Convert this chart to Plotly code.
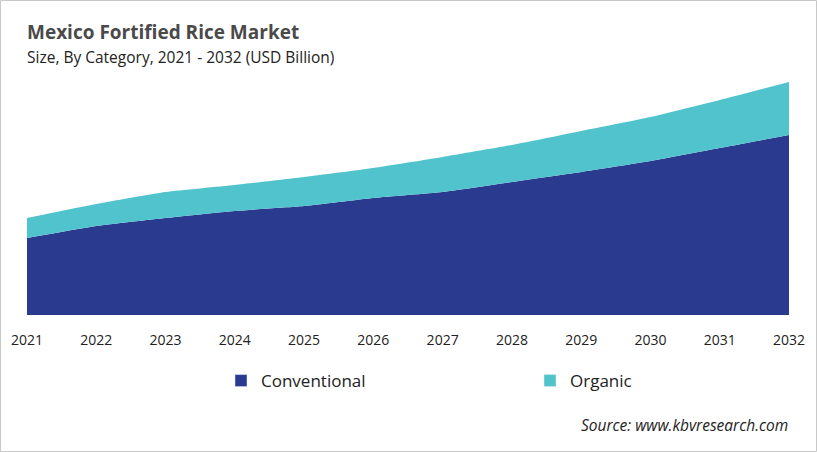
import plotly.graph_objects as go

years = [2021, 2022, 2023, 2024, 2025, 2026, 2027, 2028, 2029, 2030, 2031, 2032]
conventional = [0.77, 0.89, 0.97, 1.04, 1.09, 1.17, 1.23, 1.33, 1.43, 1.54, 1.67, 1.80]
organic = [0.20, 0.22, 0.26, 0.26, 0.29, 0.30, 0.35, 0.37, 0.41, 0.44, 0.48, 0.53]

C_CONV = "#293a8f"
C_ORG = "#50c3cd"

W, H = 817, 452
ML, MR, MT, MB = 27, 28, 70, 137
PW, PH = W - ML - MR, H - MT - MB

fig = go.Figure()
fig.add_trace(go.Scatter(x=years, y=conventional, stackgroup="one", mode="none",
                         fillcolor=C_CONV, line=dict(shape="spline", smoothing=0.5, width=0),
                         showlegend=False, hoverinfo="x+y", name="Conventional"))
fig.add_trace(go.Scatter(x=years, y=organic, stackgroup="one", mode="none",
                         fillcolor=C_ORG, line=dict(shape="spline", smoothing=0.5, width=0),
                         showlegend=False, hoverinfo="x+y", name="Organic"))
# legend entries
fig.add_trace(go.Bar(x=[None], y=[None], name="Conventional", marker_color=C_CONV, legend="legend"))
fig.add_trace(go.Bar(x=[None], y=[None], name="Organic", marker_color=C_ORG, legend="legend2"))

leg_common = dict(orientation="h", xanchor="left", yanchor="middle",
                  y=1 - (381 - MT) / PH, font=dict(size=17, color="#222222"),
                  bgcolor="rgba(0,0,0,0)", borderwidth=0)

fig.update_layout(
    width=W, height=H,
    margin=dict(l=ML, r=MR, t=MT, b=MB),
    paper_bgcolor="white", plot_bgcolor="white",
    font=dict(family="Open Sans, Noto Sans, sans-serif", color="#222222"),
    xaxis=dict(range=[2021, 2032], tickmode="array", tickvals=years,
               ticktext=[str(y) for y in years], showgrid=False, zeroline=False,
               showline=False, ticks="outside", ticklen=12, tickcolor="rgba(0,0,0,0)",
               tickfont=dict(size=14, color="#222222"), fixedrange=True),
    yaxis=dict(range=[0, PH / 100], visible=False, fixedrange=True),
    showlegend=True,
    legend=dict(x=(221 - ML) / PW, **leg_common),
    legend2=dict(x=(530 - ML) / PW, **leg_common),
    annotations=[
        dict(text="<b>Mexico Fortified Rice Market</b>", xref="paper", yref="paper",
             x=-2 / PW, y=1 + (MT - 32) / PH, xanchor="left", yanchor="middle",
             showarrow=False, font=dict(size=19, color="#4a4a4a")),
        dict(text="Size, By Category, 2021 - 2032 (USD Billion)", xref="paper", yref="paper",
             x=-2 / PW, y=1 + (MT - 57) / PH, xanchor="left", yanchor="middle",
             showarrow=False, font=dict(size=15.5, color="#222222")),
        dict(text="<i>Source: www.kbvresearch.com</i>", xref="paper", yref="paper",
             x=(790 - ML) / PW, y=1 - (425 - MT) / PH, xanchor="right", yanchor="middle",
             showarrow=False, font=dict(size=15.5, color="#222222")),
    ],
    shapes=[
        dict(type="rect", xref="paper", yref="paper",
             x0=(0.5 - ML) / PW, x1=(W - 0.5 - ML) / PW,
             y0=1 + (MT - 0.5) / PH, y1=1 - (H - 0.5 - MT) / PH,
             line=dict(color="#c8c8c8", width=1), layer="above"),
    ],
)

fig.write_html("out.html", config={"displayModeBar": False},
               post_script="document.body.style.margin='0';document.body.style.overflow='hidden';")
